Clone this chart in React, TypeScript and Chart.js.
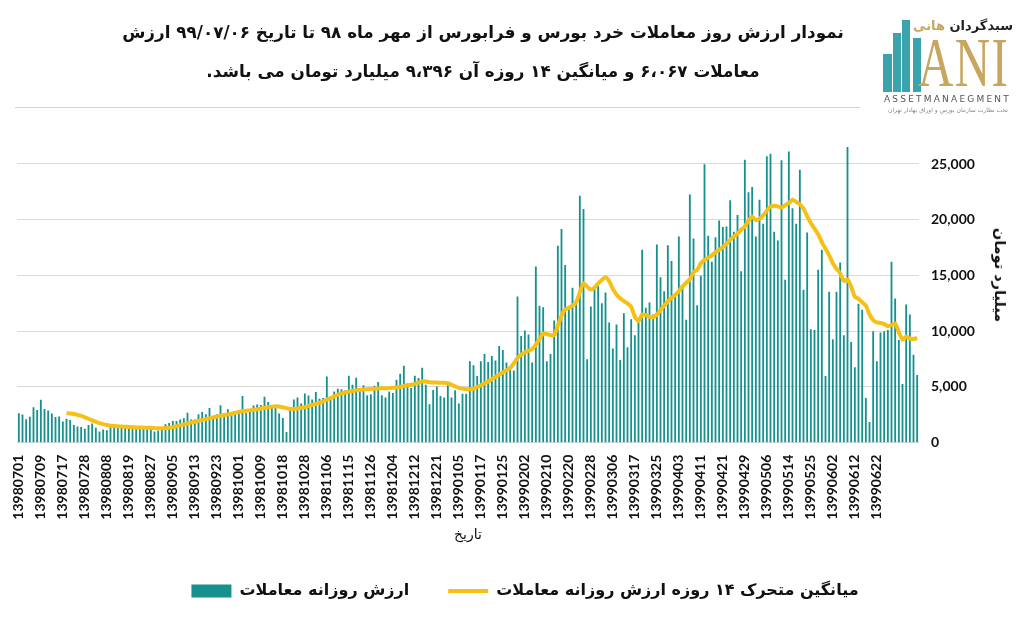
import React, { useEffect, useRef } from 'react';
import { Chart, registerables } from 'chart.js';

Chart.register(...registerables);

// Tick labels shown on the x axis (every 6th trading day)
const TICK_LABELS = [
  '13980701', '13980709', '13980717', '13980728', '13980808', '13980819', '13980827', '13980905',
  '13980913', '13980923', '13981001', '13981009', '13981018', '13981028', '13981106', '13981115',
  '13981126', '13981204', '13981212', '13981221', '13990105', '13990117', '13990125', '13990202',
  '13990210', '13990220', '13990228', '13990306', '13990317', '13990325', '13990403', '13990411',
  '13990421', '13990429', '13990506', '13990514', '13990525', '13990602', '13990612', '13990622',
];
const TICK_EVERY = 6;

// Daily trading value (billion Toman), one per trading day
const DAILY_VALUES = [
  2650, 2520, 2100, 2330, 3180, 2940, 3850, 3030, 2880, 2630,
  2300, 2360, 1910, 2150, 2030, 1580, 1450, 1400, 1250, 1580,
  1730, 1340, 1000, 1180, 1120, 1520, 1450, 1500, 1350, 1400,
  1300, 1450, 1400, 1350, 1450, 1300, 1350, 1000, 1100, 1250,
  1650, 1770, 1950, 1950, 2070, 2200, 2680, 2070, 2070, 2560,
  2750, 2560, 3110, 2380, 2560, 3350, 2380, 2990, 2560, 2560,
  2870, 4180, 2670, 2970, 3330, 3420, 3390, 4120, 3640, 3270,
  3390, 2610, 2210, 970, 2910, 3880, 4060, 3510, 4420, 4240,
  3880, 4550, 3940, 4000, 5940, 3900, 4600, 4850, 4800, 4700,
  6000, 5200, 5820, 4850, 5150, 4250, 4350, 5100, 5450, 4250,
  4050, 4600, 4450, 5640, 6180, 6910, 5300, 4900, 6000, 5800,
  6730, 5200, 3450, 4730, 5030, 4200, 4050, 5150, 4050, 4700,
  3510, 4400, 4400, 7300, 6950, 5990, 7300, 7960, 7250, 7780,
  7370, 8680, 8320, 7190, 6830, 6470, 13110, 9580, 10060, 9700,
  7190, 15810, 12280, 12160, 7300, 7960, 10960, 17660, 19160, 15930,
  11980, 13890, 12510, 22150, 20960, 7480, 12210, 13890, 14070, 12510,
  13470, 10780, 8440, 10600, 7420, 11620, 8560, 11080, 9640, 10780,
  17300, 12100, 12570, 11500, 17780, 14850, 13590, 17720, 16290, 13170,
  18500, 14130, 11020, 22270, 18320, 12340, 14970, 24970, 18560, 16230,
  18440, 19940, 19340, 19400, 21740, 18920, 20420, 15390, 25390, 22460,
  22930, 18500, 21800, 19640, 25690, 25930, 18920, 18140, 25330, 14610,
  26110, 21020, 19640, 24490, 13710, 18860, 10180, 10120, 15510, 17300,
  5990, 13530, 9280, 13530, 16170, 9640, 26530, 9040, 6770, 12460,
  11920, 4010, 1860, 10000, 7310, 9880, 10000, 10120, 16230, 12930,
  9220, 5270, 12400, 11500, 7900, 6067,
];

// 14-day moving average, starting at trading day index 13
const MA_START = 13;
const MA14_VALUES = [
  2650, 2620, 2580, 2500, 2400, 2280, 2150,
  2000, 1880, 1760, 1660, 1580, 1530, 1500, 1470, 1450, 1430,
  1410, 1390, 1370, 1360, 1350, 1340, 1330, 1310, 1300, 1290,
  1300, 1340, 1400, 1470, 1550, 1630, 1720, 1800, 1880, 1960,
  2040, 2110, 2200, 2270, 2350, 2420, 2480, 2540, 2600, 2680,
  2760, 2830, 2870, 2900, 2950, 3000, 3060, 3120, 3180, 3220,
  3270, 3250, 3180, 3100, 3040, 3030, 3060, 3120, 3180, 3300,
  3380, 3480, 3580, 3700, 3850, 4000, 4150, 4300, 4420, 4500,
  4580, 4640, 4700, 4730, 4770, 4800, 4820, 4850, 4870, 4880,
  4890, 4900, 4920, 4950, 5000, 5100, 5150, 5200, 5280, 5380,
  5500, 5480, 5420, 5400, 5390, 5380, 5370, 5330, 5200, 5050,
  4920, 4850, 4800, 4790, 4850, 5000, 5150, 5330, 5500, 5700,
  5900, 6100, 6300, 6500, 6700, 7100, 7600, 7900, 8100, 8250,
  8400, 8800, 9300, 9800, 9750, 9650, 9650, 10500, 11400, 11950,
  12100, 12300, 12600, 13500, 14300, 14000, 13750, 13900, 14300, 14600,
  14850, 14500, 13800, 13300, 12950, 12700, 12500, 12200, 11300, 10900,
  11500, 11450, 11300, 11250, 11500, 11900, 12300, 12650, 13000, 13250,
  13600, 14000, 14350, 14650, 15300, 15500, 16100, 16400, 16600, 16800,
  17100, 17300, 17550, 17850, 18200, 18500, 18750, 19100, 19400, 19900,
  20300, 19950, 20100, 20400, 20800, 21200, 21250, 21200, 21100, 21300,
  21500, 21800, 21600, 21400, 21000, 20300, 19700, 19200, 18700, 18000,
  17400, 16800, 16100, 15600, 15200, 14500, 14650, 14000, 13100, 12900,
  12600, 12300, 11500, 11000, 10800, 10750, 10650, 10450, 10550, 10700,
  9900, 9250, 9500, 9350, 9300, 9396,
];

const Y_TICKS = [0, 5000, 10000, 15000, 20000, 25000];
const Y_MAX = 27000;

const SERIES_BAR = 'ارزش روزانه معاملات';
const SERIES_LINE = 'میانگین متحرک ۱۴ روزه ارزش روزانه معاملات';
const X_TITLE = 'تاریخ';
const Y_TITLE = 'میلیارد تومان';
const TITLE_1 = 'نمودار ارزش روز معاملات خرد بورس و فرابورس از مهر ماه ۹۸ تا تاریخ ۹۹/۰۷/۰۶ ارزش';
const TITLE_2 = 'معاملات ۶،۰۶۷ و میانگین ۱۴ روزه آن ۹،۳۹۶ میلیارد تومان می باشد.';

const TEAL = '#17918d';
const YELLOW = '#f6c016';
const FA_FONT = '"DejaVu Sans", sans-serif';

export default function App() {
  const ref = useRef<HTMLCanvasElement>(null);

  useEffect(() => {
    const labels = DAILY_VALUES.map((_, i) =>
      i % TICK_EVERY === 0 && TICK_LABELS[i / TICK_EVERY] ? TICK_LABELS[i / TICK_EVERY] : ''
    );
    const ma = DAILY_VALUES.map((_, i) => (i < MA_START ? null : MA14_VALUES[i - MA_START] ?? null));

    const chart = new Chart(ref.current as HTMLCanvasElement, {
      type: 'bar',
      data: {
        labels,
        datasets: [
          {
            type: 'bar',
            label: SERIES_BAR,
            data: DAILY_VALUES,
            backgroundColor: TEAL,
            barPercentage: 0.5,
            categoryPercentage: 1,
            order: 1,
          } as any,
          {
            type: 'line',
            label: SERIES_LINE,
            data: ma,
            borderColor: YELLOW,
            backgroundColor: YELLOW,
            borderWidth: 4,
            pointRadius: 0,
            tension: 0.2,
            order: 0,
          } as any,
        ],
      },
      options: {
        animation: false,
        responsive: false,
        devicePixelRatio: 1,
        layout: { padding: { left: 17, top: 141.7, right: 0, bottom: 9 } },
        plugins: {
          tooltip: { enabled: false },
          legend: {
            position: 'bottom',
            labels: {
              usePointStyle: true,
              pointStyleWidth: 40,
              boxHeight: 13,
              padding: 39,
              color: '#111',
              font: { family: FA_FONT, size: 16, weight: 'bold' },
              sort: (a: any, b: any) => a.datasetIndex - b.datasetIndex,
              generateLabels: (c: any) => {
                const items = (Chart.defaults.plugins.legend.labels as any).generateLabels(c);
                return items.map((it: any) =>
                  it.datasetIndex === 1
                    ? { ...it, pointStyle: 'line', lineWidth: 4, strokeStyle: YELLOW, fillStyle: YELLOW }
                    : { ...it, pointStyle: 'rect', lineWidth: 0, strokeStyle: TEAL, fillStyle: TEAL }
                );
              },
            },
          } as any,
        },
        scales: {
          x: {
            grid: { display: false, drawTicks: false },
            border: { display: false },
            ticks: {
              autoSkip: false,
              minRotation: 90,
              maxRotation: 90,
              padding: 12,
              color: '#111',
              font: { family: 'Lato', size: 14, weight: 'bold' },
            },
            title: {
              display: true,
              text: X_TITLE,
              color: '#111',
              font: { family: FA_FONT, size: 14 },
              padding: 0,
            },
            afterFit: (s: any) => {
              s.height = 101.3;
            },
          } as any,
          y: {
            position: 'right',
            min: 0,
            max: Y_MAX,
            grid: { color: '#d9d9d9', drawTicks: false, lineWidth: 1 },
            border: { display: false },
            ticks: {
              padding: 12,
              color: '#111',
              font: { family: 'Lato', size: 14, weight: 'bold' },
              callback: (v: any) => Number(v).toLocaleString('en-US'),
            },
            afterBuildTicks: (s: any) => {
              s.ticks = Y_TICKS.map((v) => ({ value: v }));
            },
            afterFit: (s: any) => {
              s.width = 114;
            },
          } as any,
        },
      },
    });
    return () => chart.destroy();
  }, []);

  const abs: React.CSSProperties = { position: 'absolute', pointerEvents: 'none' };

  return (
    <div style={{ position: 'absolute', left: 0, top: 0, width: 1033, height: 618, background: '#fff', overflow: 'hidden' }}>
      <canvas ref={ref} width={1033} height={618} style={{ position: 'absolute', left: 0, top: 0, width: 1033, height: 618 }} />

      {/* title */}
      <div
        dir="rtl"
        style={{
          ...abs,
          left: 0,
          top: 13,
          width: 966,
          textAlign: 'center',
          font: `bold 16.8px ${FA_FONT}`,
          lineHeight: '39px',
          color: '#111',
          whiteSpace: 'nowrap',
        }}
      >
        <div>{TITLE_1}</div>
        <div>{TITLE_2}</div>
      </div>
      <div style={{ ...abs, left: 15, top: 107, width: 845, height: 1, background: '#d4d4d4' }} />

      {/* y axis title */}
      <div
        dir="rtl"
        style={{
          ...abs,
          left: 1000,
          top: 275,
          transform: 'translate(-50%, -50%) rotate(90deg)',
          font: `bold 14.5px ${FA_FONT}`,
          color: '#111',
          whiteSpace: 'nowrap',
        }}
      >
        {Y_TITLE}
      </div>

      {/* logo */}
      <div style={{ ...abs, left: 883, top: 54, width: 9, height: 38, background: '#3aa3ab' }} />
      <div style={{ ...abs, left: 893, top: 33, width: 8, height: 59, background: '#3aa3ab' }} />
      <div style={{ ...abs, left: 902, top: 20, width: 8, height: 72, background: '#3aa3ab' }} />
      <div style={{ ...abs, left: 913, top: 38, width: 8, height: 54, background: '#3aa3ab' }} />
      <div
        style={{
          ...abs,
          left: 918,
          top: 28,
          font: '300 70px "Liberation Serif", serif',
          color: '#c9a660',
          transform: 'scaleX(0.7)',
          transformOrigin: 'left top',
          lineHeight: '70px',
          letterSpacing: '2px',
        }}
      >
        ANI
      </div>
      <div dir="rtl" style={{ ...abs, left: 920, top: 18, width: 93, textAlign: 'right', font: `bold 13px ${FA_FONT}`, whiteSpace: 'nowrap' }}>
        <span style={{ color: '#222' }}>سبدگردان </span>
        <span style={{ color: '#c9a660' }}>هانی</span>
      </div>
      <div style={{ ...abs, left: 884, top: 94, font: '9px "DejaVu Sans", sans-serif', color: '#555', letterSpacing: '2.2px', whiteSpace: 'nowrap' }}>
        ASSETMANAEGMENT
      </div>
      <div dir="rtl" style={{ ...abs, left: 884, top: 106, width: 128, textAlign: 'center', font: `6px ${FA_FONT}`, color: '#888', whiteSpace: 'nowrap' }}>
        تحت نظارت سازمان بورس و اوراق بهادار تهران
      </div>
    </div>
  );
}
